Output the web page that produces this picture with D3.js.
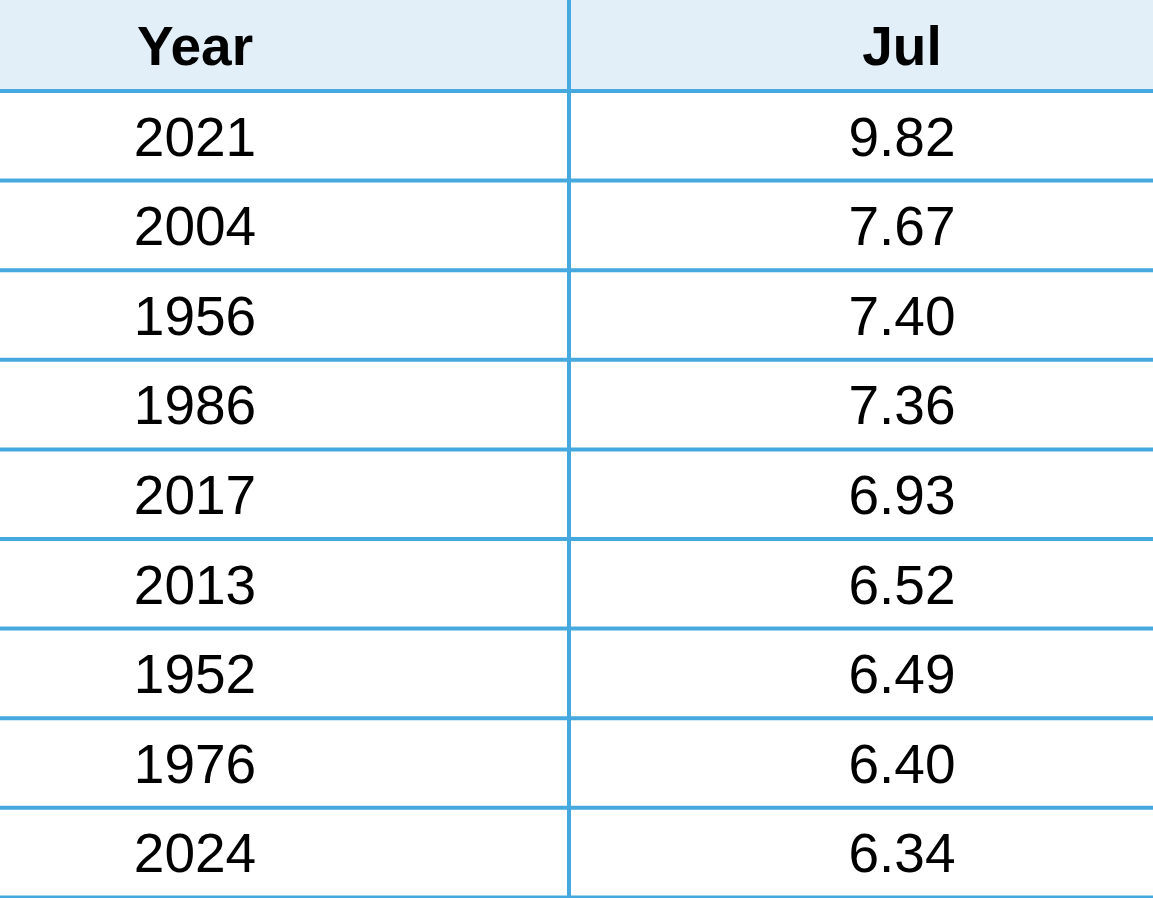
<!DOCTYPE html>
<html><head><meta charset="utf-8">
<script src="https://cdn.jsdelivr.net/npm/d3@7/dist/d3.min.js"></script>
<style>body{margin:0;background:#fff}svg{display:block}</style>
</head><body>
<script>
const columns = ["Year", "Jul"];
const years = ["2021","2004","1956","1986","2017","2013","1952","1976","2024"];
const julValues = ["9.82","7.67","7.40","7.36","6.93","6.52","6.49","6.40","6.34"];

const W = 1153, H = 898;
const svg = d3.select("body").append("svg").attr("width", W).attr("height", H);
const headerH = 91;
const y = d3.scaleBand().domain(d3.range(years.length)).range([headerH, 897.4]);
const xText = d3.scaleOrdinal().domain(columns).range([195, 902]);
const lineColor = "#45a9e0";
const font = "Liberation Sans, Arial, Helvetica, sans-serif";

svg.append("rect").attr("x",0).attr("y",0).attr("width",W).attr("height",headerH).attr("fill","#e2eff9");

svg.selectAll("text.h").data(columns).join("text")
  .attr("x", d => xText(d)).attr("y", headerH/2).attr("dy","0.36em")
  .attr("text-anchor","middle").attr("font-family",font).attr("font-weight","bold")
  .attr("font-size",55).attr("fill","#000").text(d => d);

const rows = years.map((yr,i)=>({i, vals:[yr, julValues[i]]}));
rows.forEach(r=>{
  svg.selectAll(null).data(r.vals).join("text")
    .attr("x",(d,j)=>xText(columns[j])).attr("y", y(r.i)+y.bandwidth()/2).attr("dy","0.36em")
    .attr("text-anchor","middle").attr("font-family",font).attr("font-size",55).attr("fill","#000")
    .text(d=>d);
});

const lines = [headerH, ...d3.range(years.length).map(i=>y(i)+y.bandwidth())];
svg.selectAll("line.hl").data(lines).join("line")
  .attr("x1",0).attr("x2",W).attr("y1",d=>d).attr("y2",d=>d)
  .attr("stroke",lineColor).attr("stroke-width",4);
svg.append("line").attr("x1",569).attr("x2",569).attr("y1",0).attr("y2",H)
  .attr("stroke",lineColor).attr("stroke-width",4);
</script>
</body></html>
